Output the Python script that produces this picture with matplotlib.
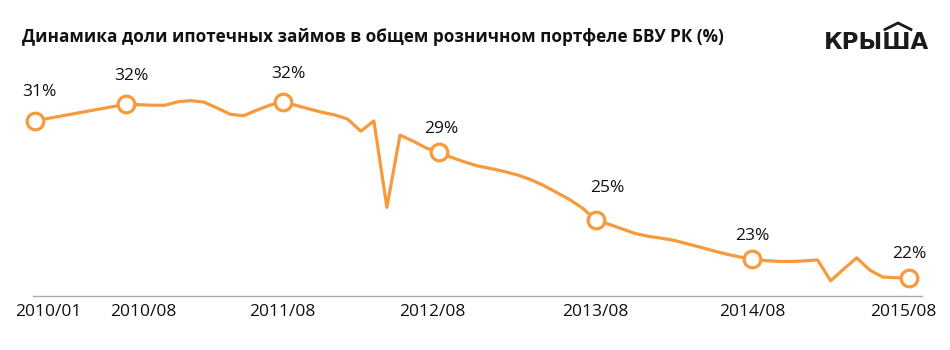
import matplotlib
matplotlib.use("Agg")
import matplotlib.pyplot as plt
import matplotlib.transforms as mtransforms

# Data: monthly share of mortgage loans, 2010/01 .. 2015/08 (%)
share = [30.95, 31.09, 31.23, 31.37, 31.51, 31.65, 31.79, 31.93, 31.90, 31.87,
         31.87, 32.08, 32.14, 32.05, 31.70, 31.34, 31.25, 31.57, 31.87, 32.06,
         31.87, 31.66, 31.46, 31.30, 31.05, 30.34, 30.95, 25.86, 30.11, 29.76,
         29.36, 29.09, 28.79, 28.52, 28.29, 28.14, 27.97, 27.77, 27.50, 27.15,
         26.74, 26.32, 25.81, 25.11, 24.87, 24.60, 24.33, 24.16, 24.05, 23.92,
         23.72, 23.52, 23.31, 23.11, 22.95, 22.82, 22.73, 22.68, 22.68, 22.71,
         22.77, 21.54, 22.23, 22.89, 22.17, 21.76, 21.72, 21.72]
months = list(range(len(share)))
marked = [0, 7, 19, 31, 43, 55, 67]
tick_labels = ["2010/01", "2010/08", "2011/08", "2012/08", "2013/08", "2014/08", "2015/08"]

title = "Динамика доли ипотечных займов в общем розничном портфеле БВУ РК (%)"
orange = "#F7993D"
font = ["Open Sans", "DejaVu Sans"]

# label offsets in pixels (value labels, tick labels)
label_off = [(5, 29), (5, 28), (6, 28), (2, 23), (12, 32), (0, 23), (0, 24)]
tick_off = [14, 17, 0, -7, 0, 0, -6]

fig = plt.figure(figsize=(9.5, 3.5), dpi=100)
ax = fig.add_axes([0.035, 0.154, 0.9355, 0.674])

ax.plot(months, share, color=orange, lw=2.3, solid_joinstyle="round", zorder=2)
ax.plot([months[i] for i in marked], [share[i] for i in marked], "o", ms=12,
        mfc="white", mec=orange, mew=2.3, zorder=3, clip_on=False)

for i, (dx, dy) in zip(marked, label_off):
    ax.annotate(f"{round(share[i])}%", (months[i], share[i]), xytext=(dx, dy),
                textcoords="offset pixels", ha="center", va="center",
                fontsize=12.5, family=font, color="#111111")

ax.set_xlim(-0.1, 68)
ax.set_ylim(20.64, 34.52)
ax.set_xticks(marked)
ax.set_xticklabels(tick_labels, fontsize=12.5, family=font, color="#111111")
ax.tick_params(axis="x", length=0, pad=6)
ax.set_yticks([])
for s in ["top", "left", "right"]:
    ax.spines[s].set_visible(False)
ax.spines["bottom"].set_color("#aaaaaa")
ax.spines["bottom"].set_linewidth(1.0)

for lab, dx in zip(ax.get_xticklabels(), tick_off):
    lab.set_transform(lab.get_transform() +
                      mtransforms.ScaledTranslation(dx / 100, 0, fig.dpi_scale_trans))

fig.text(22 / 950, 1 - 37 / 350, title, fontsize=12.3, weight="bold",
         family=font, va="center", ha="left", color="#111111")

# logo
fig.text(824 / 950, 1 - 42.5 / 350, "КРЫША", fontsize=16.5, weight="bold",
         family=["DejaVu Sans"], va="center", ha="left", color="#1a1a1a")
fig.add_artist(plt.Line2D([885 / 950, 898 / 950, 911 / 950],
                          [1 - 29.5 / 350, 1 - 23 / 350, 1 - 29.5 / 350],
                          color="#1a1a1a", lw=2.0, solid_joinstyle="miter"))

fig.savefig("out.png", dpi=100, facecolor="white")
